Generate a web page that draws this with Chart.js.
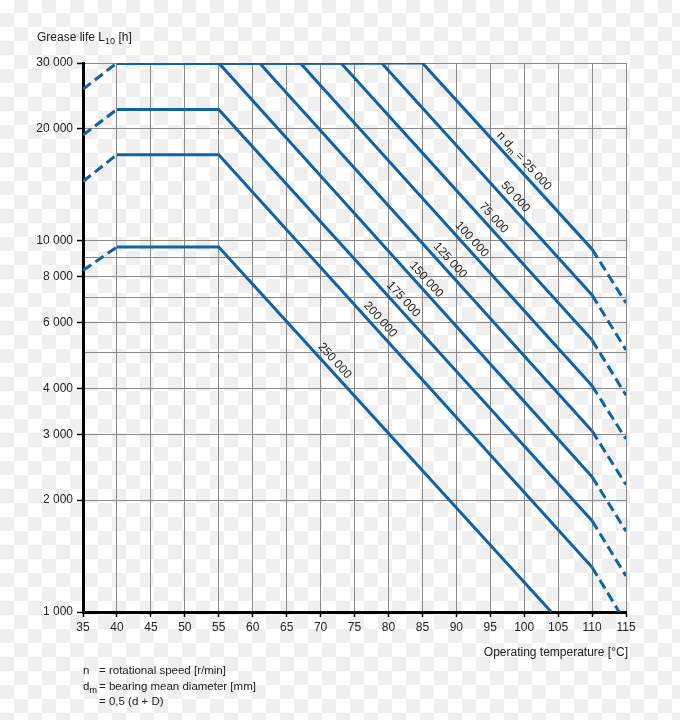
<!DOCTYPE html>
<html>
<head>
<meta charset="utf-8">
<script src="https://cdn.jsdelivr.net/npm/chart.js@4.4.1/dist/chart.umd.min.js"></script>
<style>
  body { margin: 0; }
  #wrap {
    position: relative; width: 680px; height: 720px;
    background: repeating-conic-gradient(#efefef 0 25%, #ffffff 0 50%) 0 -1px / 28px 28px;
    font-family: "Liberation Sans", Arial, sans-serif; color: #222; font-size: 12px;
  }
  canvas { position: absolute; left: 0; top: 0; }
  .txt { position: absolute; white-space: nowrap; }
  sub { font-size: 9px; vertical-align: -3px; line-height: 0; }
  #note { left: 83px; top: 663px; line-height: 15.5px; font-size: 11.5px; }
  #note span { display: inline-block; width: 16px; }
</style>
</head>
<body>
<div id="wrap">
  <canvas id="chart" width="680" height="720"></canvas>
  <div class="txt" style="left:37px; top:30px;">Grease life L<sub>10</sub> [h]</div>
  <div class="txt" style="right:52px; top:645px;">Operating temperature [°C]</div>
  <div class="txt" id="note">
    <span>n</span>= rotational speed [r/min]<br>
    <span>d<sub>m</sub></span>= bearing mean diameter [mm]<br>
    <span></span>= 0,5 (d + D)
  </div>
</div>
<script>
// n*dm values, one line each
const speedLabels = ['25 000', '50 000', '75 000', '100 000', '125 000', '150 000', '175 000', '200 000', '250 000'];

// [temperature °C, grease life h]
const line25k  = [[40, 30000], [85, 30000], [110, 9470], [115, 6780]];
const line50k  = [[40, 30000], [79, 30000], [110, 7130], [115, 5070]];
const line75k  = [[40, 30000], [73, 30000], [110, 5390], [115, 3830]];
const line100k = [[40, 30000], [67, 30000], [110, 4060], [115, 2920]];
const line125k = [[40, 30000], [61, 30000], [110, 3070], [115, 2200]];
const line150k = [[35, 25500], [40, 30000], [55, 30000], [110, 2310], [115, 1650]];
const line175k = [[35, 19200], [40, 22500], [55, 22500], [110, 1760], [115, 1250]];
const line200k = [[35, 14400], [40, 17000], [55, 17000], [110, 1320], [114, 1000]];
const line250k = [[35, 8300], [40, 9600], [55, 9600], [104, 1000]];

const allLines = [line25k, line50k, line75k, line100k, line125k, line150k, line175k, line200k, line250k];

const yGridValues = [1000, 2000, 3000, 4000, 5000, 6000, 7000, 8000, 9000, 10000, 20000, 30000];
const yLabelled = [1000, 2000, 3000, 4000, 6000, 8000, 10000, 20000, 30000];

// where along each line its label sits (°C)
const labelTemps = [99.0, 97.7, 94.5, 91.3, 88.1, 84.6, 81.2, 77.8, 71.1];

const blue = '#1062a5';
const grey = '#8a8a8a';
const FONT = '"Liberation Sans", Arial, sans-serif';

function fmt(v) {
    return String(v).replace(/\B(?=(\d{3})+(?!\d))/g, ' ');
}

const lineLabels = {
    id: 'lineLabels',
    afterDatasetsDraw(chart) {
        const c = chart.ctx;
        c.save();
        c.fillStyle = '#222';
        c.textBaseline = 'middle';
        chart.data.datasets.forEach((ds, i) => {
            const pts = chart.getDatasetMeta(i).data;
            const px = chart.scales.x.getPixelForValue(labelTemps[i]);
            for (let k = 0; k < pts.length - 1; k++) {
                const a = pts[k], b = pts[k + 1];
                if (px < a.x || px > b.x) continue;
                const py = a.y + (b.y - a.y) * (px - a.x) / (b.x - a.x);
                const ang = Math.atan2(b.y - a.y, b.x - a.x);
                const off = 9;
                c.save();
                c.translate(px + off * Math.sin(ang), py - off * Math.cos(ang));
                c.rotate(ang);
                c.font = '12px ' + FONT;
                if (i === 0) {
                    const p1 = 'n d', p3 = ' = ' + speedLabels[0];
                    const w1 = c.measureText(p1).width, w3 = c.measureText(p3).width;
                    c.font = '9px ' + FONT;
                    const w2 = c.measureText('m').width;
                    let x0 = -(w1 + w2 + w3) / 2;
                    c.textAlign = 'left';
                    c.font = '12px ' + FONT;
                    c.fillText(p1, x0, 0);
                    c.font = '9px ' + FONT;
                    c.fillText('m', x0 + w1, 4);
                    c.font = '12px ' + FONT;
                    c.fillText(p3, x0 + w1 + w2, 0);
                } else {
                    c.textAlign = 'center';
                    c.fillText(speedLabels[i], 0, 0);
                }
                c.restore();
                break;
            }
        });
        c.restore();
    }
};

const ctx = document.getElementById('chart');

new Chart(ctx, {
    type: 'line',
    data: {
        datasets: allLines.map((pts, i) => ({
            label: speedLabels[i],
            data: pts.map(p => ({ x: p[0], y: p[1] })),
            borderColor: blue,
            borderWidth: 3,
            pointRadius: 0,
            fill: false,
            tension: 0,
            segment: {
                borderDash: s => (s.p0.parsed.x < 40 || s.p1.parsed.x > 110) ? [10, 5] : undefined
            }
        }))
    },
    options: {
        responsive: false,
        animation: false,
        layout: { padding: { top: 63, right: 54, left: 0, bottom: 0 } },
        plugins: {
            legend: { display: false },
            tooltip: { enabled: false }
        },
        scales: {
            x: {
                type: 'linear',
                min: 35,
                max: 115,
                afterFit: s => { s.height = 108; },
                ticks: {
                    stepSize: 5,
                    autoSkip: false,
                    maxRotation: 0,
                    padding: 3,
                    color: '#222',
                    font: { family: FONT, size: 12 }
                },
                grid: {
                    color: grey,
                    lineWidth: 1,
                    tickLength: 5,
                    tickColor: '#000',
                    tickWidth: 1.5
                },
                border: { color: '#000', width: 3 }
            },
            y: {
                type: 'logarithmic',
                min: 1000,
                max: 30000,
                afterFit: s => { s.width = 83; },
                afterBuildTicks: s => { s.ticks = yGridValues.map(v => ({ value: v })); },
                ticks: {
                    autoSkip: false,
                    padding: 4,
                    color: '#222',
                    font: { family: FONT, size: 12 },
                    callback: v => yLabelled.includes(v) ? fmt(v) : ''
                },
                grid: {
                    color: grey,
                    lineWidth: 1,
                    tickLength: 6,
                    tickWidth: 1.5,
                    tickColor: c => (c.tick && yLabelled.includes(c.tick.value)) ? '#000' : 'rgba(0,0,0,0)'
                },
                border: { color: '#000', width: 3 }
            }
        }
    },
    plugins: [lineLabels]
});
</script>
</body>
</html>
